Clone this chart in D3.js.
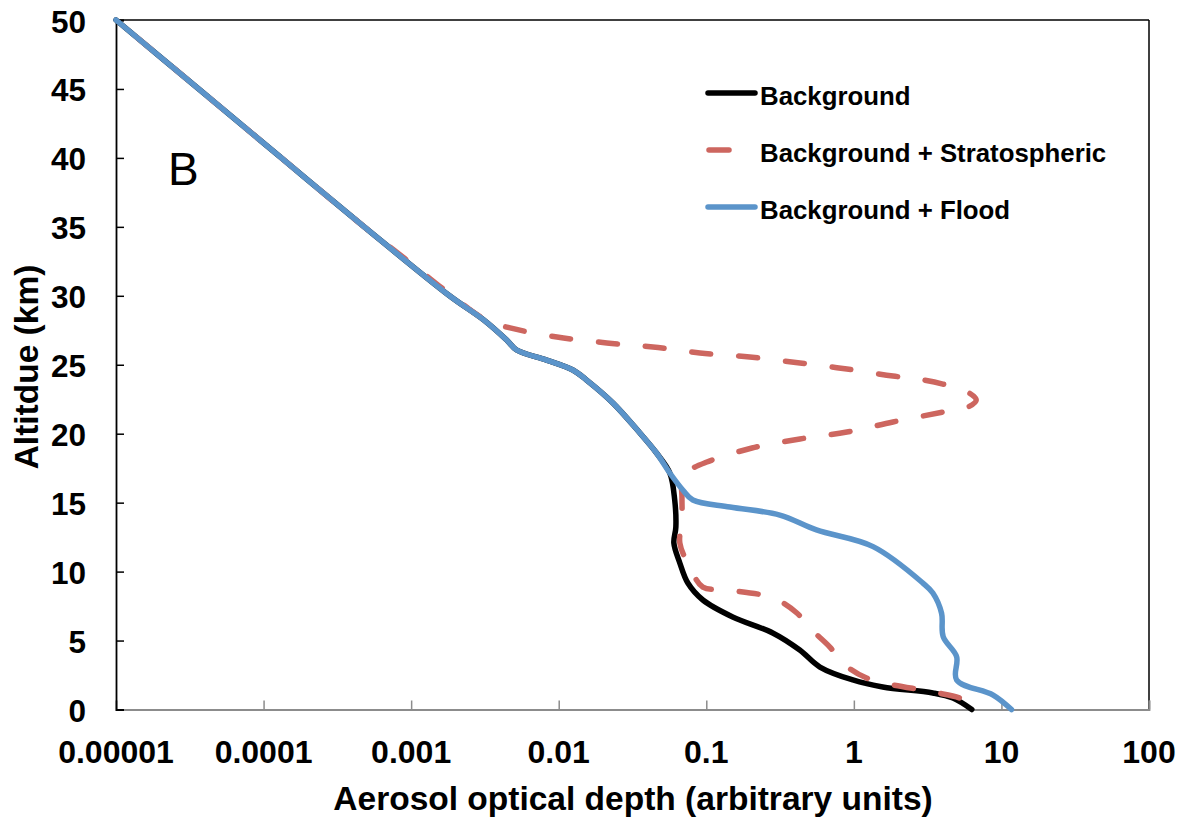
<!DOCTYPE html>
<html>
<head>
<meta charset="utf-8">
<script src="https://cdn.jsdelivr.net/npm/d3@7"></script>
<style>
  html, body { margin: 0; padding: 0; background: #fff; }
  svg { display: block; font-family: "Liberation Sans", Arial, sans-serif; }
</style>
</head>
<body>
<svg id="chart" width="1187" height="821"></svg>
<script>
// Axis ticks
const xTicks = [0.00001, 0.0001, 0.001, 0.01, 0.1, 1, 10, 100];
const xTickLabels = ["0.00001", "0.0001", "0.001", "0.01", "0.1", "1", "10", "100"];
const yTicks = [0, 5, 10, 15, 20, 25, 30, 35, 40, 45, 50];

// Background profile: altitude (km) and optical depth
const backgroundAlt = [50, 45, 40, 35, 30, 28.25, 26.79, 26.07, 25.34, 24.62, 23.89, 22.23, 20.05, 18.6, 17.15,
  15.19, 13.23, 12.07, 10.62, 9.17, 7.94, 6.71, 5.55, 4.31, 3.08, 2.14, 1.63, 1.2, 0.83, 0];
const backgroundDepth = [1e-5, 3.63e-5, 1.32e-4, 4.81e-4, 1.82e-3, 3.1e-3, 4.44e-3, 5.19e-3, 8.28e-3, 0.01247, 0.01545, 0.0233, 0.0355, 0.046, 0.0566,
  0.0611, 0.0622, 0.0603, 0.0662, 0.075, 0.0948, 0.151, 0.282, 0.43, 0.589, 0.984, 1.57, 3.43, 4.69, 6.3];

// Background + stratospheric layer
const stratAlt = [50, 45, 40, 35, 32.38, 30.28, 28.25, 27.67, 27.01, 26.58, 26.29, 25.85, 25.56, 25.13, 24.69, 24.18, 23.97, 23.6, 23.02,
  22.44, 21.94, 21.57, 20.85, 20.12, 19.62, 18.96, 17.95, 17.23, 16.65, 15.41, 13.74, 12.07, 10.33, 8.88, 8.67, 8.09,
  7.0, 5.91, 4.53, 3.37, 2.28, 1.27, 0.83, 0];
const stratDepth = [1e-5, 3.63e-5, 1.32e-4, 4.81e-4, 9.9e-4, 1.75e-3, 3.2e-3, 4.68e-3, 9.73e-3, 0.0212, 0.0435, 0.0905, 0.197, 0.431, 0.897, 1.84, 2.71, 4.01, 5.9,
  6.75, 5.95, 4.01, 1.84, 0.897, 0.431, 0.204, 0.101, 0.0739, 0.0684, 0.0684, 0.0684, 0.0662, 0.0774, 0.0948, 0.138, 0.283,
  0.411, 0.503, 0.688, 0.841, 1.22, 3.43, 5.22, 7.0];

// Background + flood layer
const floodAlt = [50, 45, 40, 35, 30, 28.25, 26.79, 26.07, 25.34, 24.62, 23.89, 22.23, 20.05, 18.6, 17.15,
  15.92, 15.19, 14.68, 14.1, 13.02, 11.81, 9.15, 8.45, 6.98, 5.28, 3.83, 2.14, 1.05, 0];
const floodDepth = [1e-5, 3.63e-5, 1.32e-4, 4.81e-4, 1.82e-3, 3.1e-3, 4.44e-3, 5.19e-3, 8.28e-3, 0.01247, 0.01545, 0.0233, 0.0355, 0.046, 0.0566,
  0.0693, 0.0811, 0.1445, 0.315, 0.558, 1.35, 2.95, 3.43, 3.93, 4.03, 4.97, 4.97, 8.79, 11.7];

const seriesNames = ["Background", "Background + Stratospheric", "Background + Flood"];
const seriesColors = ["#000000", "#cd665f", "#5b94ca"];

const svg = d3.select("#chart");
const plotLeft = 116, plotRight = 1149, plotTop = 20, plotBottom = 709.5;

const x = d3.scaleLog().domain([1e-5, 100]).range([plotLeft, plotRight]);
const y = d3.scaleLinear().domain([0, 50]).range([plotBottom, plotTop]);

const dashOn = 19, dashOff = 28;
const series = [
  { alt: backgroundAlt, depth: backgroundDepth, dashed: false },
  { alt: stratAlt, depth: stratDepth, dashed: true },
  { alt: floodAlt, depth: floodDepth, dashed: false }
];

// Frame: black top and right edges
svg.append("line").attr("x1", plotLeft).attr("x2", plotRight).attr("y1", plotTop).attr("y2", plotTop)
  .attr("stroke", "#000").attr("stroke-width", 1.5);
svg.append("line").attr("x1", plotRight).attr("x2", plotRight).attr("y1", plotTop).attr("y2", plotBottom)
  .attr("stroke", "#000").attr("stroke-width", 1.5);

// Bottom axis (gray)
const xAxis = d3.axisBottom(x).tickValues(xTicks).tickSize(-9).tickFormat("");
const gx = svg.append("g").attr("transform", `translate(0,${plotBottom})`).call(xAxis);
gx.select(".domain").attr("stroke", "#8c8c8c").attr("stroke-width", 1.8);
gx.selectAll(".tick line").attr("stroke", "#8c8c8c").attr("stroke-width", 1.5);

svg.append("g").selectAll("text").data(xTicks).join("text")
  .attr("x", d => x(d)).attr("y", 763)
  .attr("text-anchor", "middle")
  .attr("font-size", 32).attr("font-weight", "bold")
  .text((d, i) => xTickLabels[i]);

// Left axis
const yAxis = d3.axisLeft(y).tickValues(yTicks).tickSize(-8).tickFormat("");
const gy = svg.append("g").attr("transform", `translate(${plotLeft},0)`).call(yAxis);
gy.select(".domain").attr("stroke", "#000").attr("stroke-width", 1.8);
gy.selectAll(".tick line").attr("stroke", "#000").attr("stroke-width", 1.5);

svg.append("g").selectAll("text").data(yTicks).join("text")
  .attr("x", 86).attr("y", d => y(d) + 12.5)
  .attr("text-anchor", "end")
  .attr("font-size", 31.5).attr("font-weight", "bold")
  .text(d => d);

// Axis titles
svg.append("text").attr("x", 633).attr("y", 810).attr("text-anchor", "middle")
  .attr("font-size", 33.5).attr("font-weight", "bold")
  .text("Aerosol optical depth (arbitrary units)");
svg.append("text").attr("transform", "translate(38,367) rotate(-90)").attr("text-anchor", "middle")
  .attr("font-size", 33.5).attr("font-weight", "bold")
  .text("Altitdue (km)");

// Panel letter
svg.append("text").attr("x", 168).attr("y", 185).attr("font-size", 46).text("B");

// Profiles
const line = d3.line()
  .x(d => x(d[1]))
  .y(d => y(d[0]))
  .curve(d3.curveCatmullRom.alpha(0.5));

const plot = svg.append("g");
series.forEach((s, i) => {
  const pts = s.alt.map((a, k) => [a, s.depth[k]]);
  const path = plot.append("path")
    .attr("d", line(pts))
    .attr("fill", "none")
    .attr("stroke", seriesColors[i])
    .attr("stroke-width", 5.5)
    .attr("stroke-linecap", "round")
    .attr("stroke-linejoin", "round");
  if (s.dashed) {
    // centre one dash on the outermost point of the layer bulge
    const node = path.node();
    const total = node.getTotalLength();
    let best = 0, bestX = -Infinity;
    for (let l = 0; l <= total; l += 0.5) {
      const p = node.getPointAtLength(l);
      if (p.x > bestX && p.y < y(15)) { bestX = p.x; best = l; }
    }
    const period = dashOn + dashOff;
    const offset = (((dashOn / 2 - best) % period) + period) % period;
    path.attr("stroke-dasharray", `${dashOn},${dashOff}`)
      .attr("stroke-dashoffset", offset);
  }
});

// Legend
const legendY = [93, 150, 207];
const legend = svg.append("g");
seriesNames.forEach((name, i) => {
  const dashed = series[i].dashed;
  legend.append("line")
    .attr("x1", dashed ? 709 : 708).attr("x2", dashed ? 729 : 755)
    .attr("y1", legendY[i]).attr("y2", legendY[i])
    .attr("stroke", seriesColors[i]).attr("stroke-width", 5.5)
    .attr("stroke-linecap", "round");
  legend.append("text")
    .attr("x", 760).attr("y", legendY[i] + 12)
    .attr("font-size", 25.8).attr("font-weight", "bold")
    .text(name);
});
</script>
</body>
</html>
